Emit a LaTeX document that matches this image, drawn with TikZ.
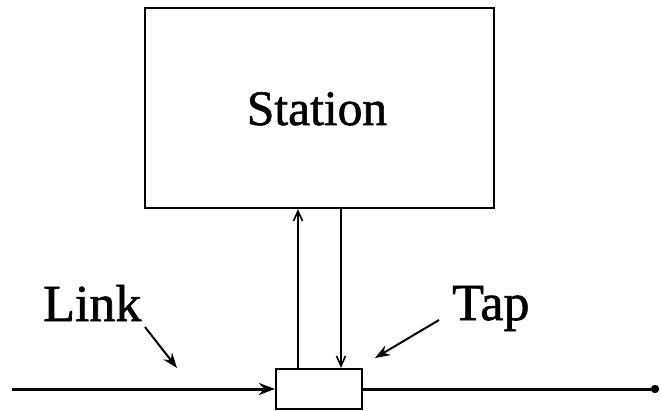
\documentclass[tikz,border=0pt]{standalone}
\usepackage{fontspec}
\setmainfont{Liberation Serif}
\newfontfamily\scanfont[FakeBold=1.2]{Liberation Serif}
\usetikzlibrary{arrows.meta}
\begin{document}
\begin{tikzpicture}[x=1pt,y=1pt,
  boxshape/.style={draw, line width=2.2pt, inner sep=0pt},
  biglabel/.style={font=\scanfont\fontsize{52}{56}\selectfont, inner sep=0pt},
  vline/.style={line width=1.6pt, -{Straight Barb[length=10pt,width=9pt,line width=1.6pt]}},
  pointer/.style={line width=2pt, -{Stealth[length=15pt,width=11pt]}},
  mainline/.style={line width=3pt}]
\useasboundingbox (0,0) rectangle (661,410);
\node[boxshape, minimum width=349pt, minimum height=200pt] (station) at (319.5,302) {};
\node[biglabel, font=\scanfont\fontsize{49.5}{54}\selectfont, anchor=base] (stationtext) at (317,285) {Station};
\node[boxshape, minimum width=86pt, minimum height=40pt] (tap) at (319,21) {};
\node[biglabel, anchor=base west] (link) at (43,89) {Link};
\node[biglabel, anchor=base west] (taplabel) at (452,90) {Tap};
\coordinate (upx) at (298,0);
\coordinate (downx) at (341,0);
\draw[vline] (tap.north -| upx) -- (station.south -| upx);
\draw[vline] (station.south -| downx) -- (tap.north -| downx);
\coordinate (linkstart) at (12,21);
\coordinate (linkend) at (655,21);
\draw[mainline, -{Stealth[length=16pt,width=12pt]}] (linkstart) -- (tap.west);
\draw[mainline] (tap.east) -- (linkend);
\fill (linkend) circle (4.2);
\coordinate (lp1) at (145,83);
\coordinate (lp2) at (177,42);
\draw[pointer] (lp1) -- (lp2);
\coordinate (tp1) at (439,90);
\coordinate (tp2) at (375,52);
\draw[pointer] (tp1) -- (tp2);
\end{tikzpicture}
\end{document}
